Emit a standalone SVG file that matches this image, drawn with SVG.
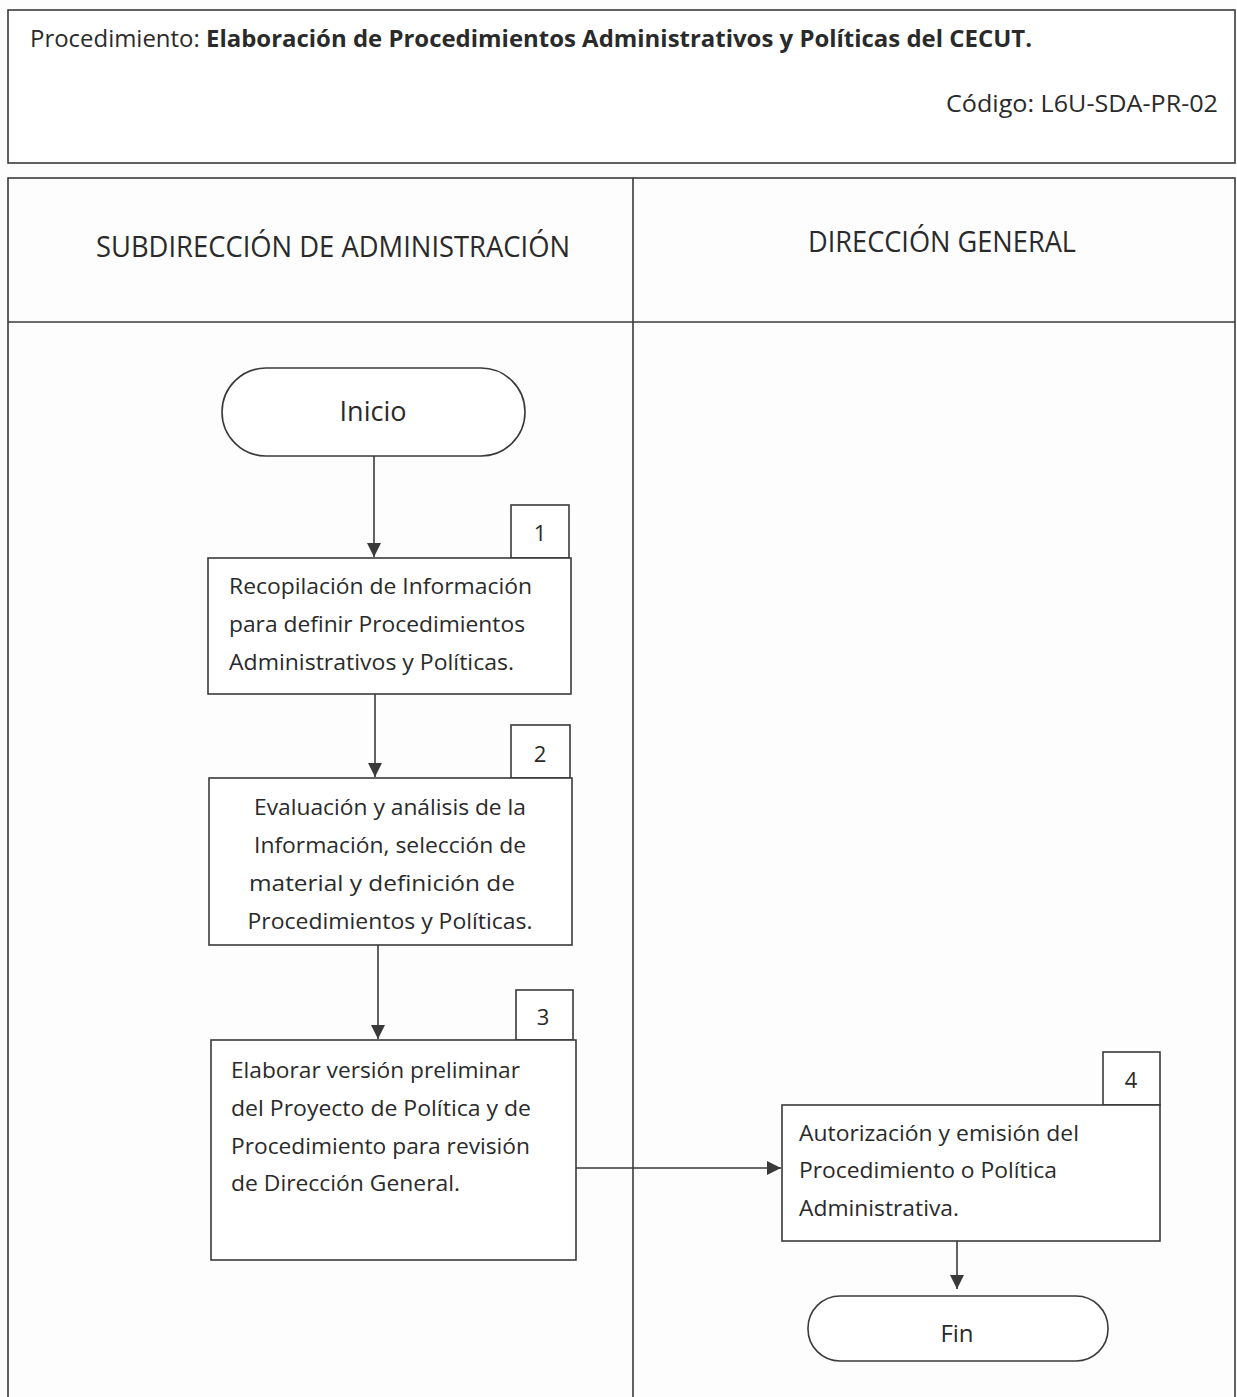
<svg xmlns="http://www.w3.org/2000/svg" width="1237" height="1397" viewBox="0 0 1237 1397">
<defs>
<style>
.ln{fill:none;stroke:#3a3a3a;stroke-width:1.6}
.bx{fill:#fff;stroke:#3a3a3a;stroke-width:1.6}
.t{font-family:"Open Sans","Noto Sans","Liberation Sans",sans-serif;fill:#2a2a2a}
.s22{font-size:22.5px}
.s24{font-size:27px}
.s27{font-size:29px}
.num{font-size:22px}
.b{font-weight:bold}
</style>
<marker id="ah2" viewBox="0 0 10 10" refX="10" refY="5" markerWidth="14" markerHeight="14" markerUnits="userSpaceOnUse" orient="auto">
<path d="M0,0 L10,5 L0,10 z" fill="#3a3a3a"/>
</marker>
</defs>
<rect width="1237" height="1397" fill="#fdfdfd"/>

<g id="header">
<rect class="bx" x="8" y="10" width="1227" height="153"/>
<text class="t" style="font-size:23.5px" x="30" y="47" textLength="1002" lengthAdjust="spacingAndGlyphs">Procedimiento: <tspan class="b">Elaboración de Procedimientos Administrativos y Políticas del CECUT.</tspan></text>
<text class="t" style="font-size:23.5px" x="946" y="112" textLength="272" lengthAdjust="spacingAndGlyphs">Código: L6U-SDA-PR-02</text>
</g>

<g id="lanes">
<rect class="ln" x="8" y="178" width="1227" height="1230"/>
<line class="ln" x1="8" y1="322" x2="1235" y2="322"/>
<line class="ln" x1="633" y1="178" x2="633" y2="1397"/>
<text class="t s27" x="333" y="257" text-anchor="middle" textLength="474" lengthAdjust="spacingAndGlyphs">SUBDIRECCIÓN DE ADMINISTRACIÓN</text>
<text class="t s27" x="942" y="252" text-anchor="middle" textLength="268" lengthAdjust="spacingAndGlyphs">DIRECCIÓN GENERAL</text>
</g>

<g id="connectors">
<line class="ln" x1="374" y1="456" x2="374" y2="557" marker-end="url(#ah2)"/>
<line class="ln" x1="375" y1="694" x2="375" y2="777" marker-end="url(#ah2)"/>
<line class="ln" x1="378" y1="945" x2="378" y2="1039" marker-end="url(#ah2)"/>
<line class="ln" x1="576" y1="1168" x2="781" y2="1168" marker-end="url(#ah2)"/>
<line class="ln" x1="957" y1="1241" x2="957" y2="1289" marker-end="url(#ah2)"/>
</g>

<g id="inicio">
<rect class="bx" x="222" y="368" width="303" height="88" rx="44" ry="44"/>
<text class="t s24" x="373" y="421" text-anchor="middle">Inicio</text>
</g>

<g id="step1">
<rect class="bx" x="511" y="505" width="58" height="53"/>
<text class="t num" x="540" y="541" text-anchor="middle">1</text>
<rect class="bx" x="208" y="558" width="363" height="136"/>
<text class="t s22" x="229" y="594" textLength="303" lengthAdjust="spacingAndGlyphs">Recopilación de Información</text>
<text class="t s22" x="229" y="632" textLength="296" lengthAdjust="spacingAndGlyphs">para definir Procedimientos</text>
<text class="t s22" x="229" y="670" textLength="285" lengthAdjust="spacingAndGlyphs">Administrativos y Políticas.</text>
</g>

<g id="step2">
<rect class="bx" x="511" y="725" width="59" height="53"/>
<text class="t num" x="540" y="762" text-anchor="middle">2</text>
<rect class="bx" x="209" y="778" width="363" height="167"/>
<text class="t s22" x="390" y="815" text-anchor="middle" textLength="272" lengthAdjust="spacingAndGlyphs">Evaluación y análisis de la</text>
<text class="t s22" x="390" y="853" text-anchor="middle" textLength="272" lengthAdjust="spacingAndGlyphs">Información, selección de</text>
<text class="t s22" x="382" y="891" text-anchor="middle" textLength="266" lengthAdjust="spacingAndGlyphs">material y definición de</text>
<text class="t s22" x="390" y="929" text-anchor="middle" textLength="285" lengthAdjust="spacingAndGlyphs">Procedimientos y Políticas.</text>
</g>

<g id="step3">
<rect class="bx" x="516" y="990" width="57" height="50"/>
<text class="t num" x="543" y="1025" text-anchor="middle">3</text>
<rect class="bx" x="211" y="1040" width="365" height="220"/>
<text class="t s22" x="231" y="1078" textLength="289" lengthAdjust="spacingAndGlyphs">Elaborar versión preliminar</text>
<text class="t s22" x="231" y="1116" textLength="300" lengthAdjust="spacingAndGlyphs">del Proyecto de Política y de</text>
<text class="t s22" x="231" y="1154" textLength="299" lengthAdjust="spacingAndGlyphs">Procedimiento para revisión</text>
<text class="t s22" x="231" y="1191" textLength="229" lengthAdjust="spacingAndGlyphs">de Dirección General.</text>
</g>

<g id="step4">
<rect class="bx" x="1103" y="1052" width="57" height="53"/>
<text class="t num" x="1131" y="1088" text-anchor="middle">4</text>
<rect class="bx" x="782" y="1105" width="378" height="136"/>
<text class="t s22" x="799" y="1141" textLength="280" lengthAdjust="spacingAndGlyphs">Autorización y emisión del</text>
<text class="t s22" x="799" y="1178" textLength="258" lengthAdjust="spacingAndGlyphs">Procedimiento o Política</text>
<text class="t s22" x="799" y="1216" textLength="160" lengthAdjust="spacingAndGlyphs">Administrativa.</text>
</g>

<g id="fin">
<rect class="bx" x="808" y="1296" width="300" height="65" rx="32" ry="32"/>
<text class="t" style="font-size:24px" x="957" y="1342" text-anchor="middle">Fin</text>
</g>
</svg>
